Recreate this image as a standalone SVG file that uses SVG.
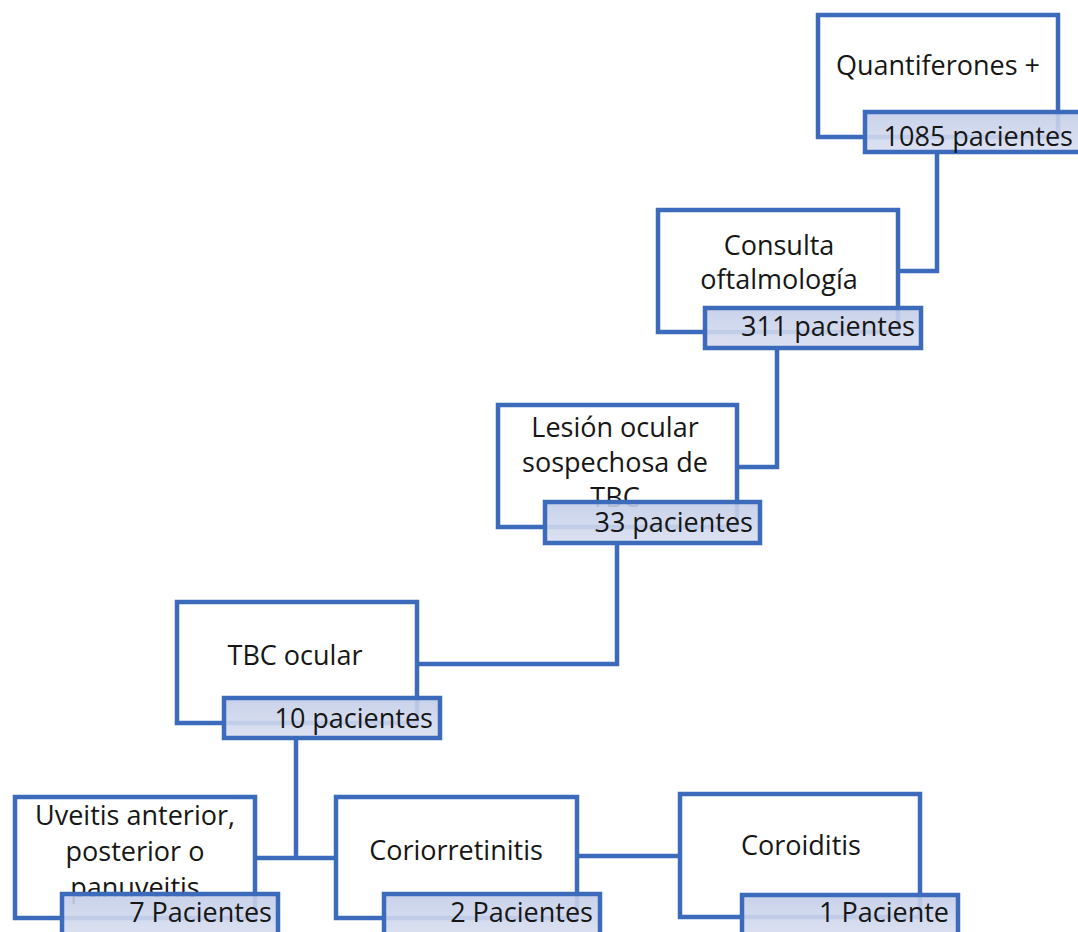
<svg xmlns="http://www.w3.org/2000/svg" width="1078" height="932" viewBox="0 0 1078 932">
<defs>
<linearGradient id="lg" x1="0" y1="0" x2="0" y2="1">
<stop offset="0" stop-color="#c3cde8"/>
<stop offset="1" stop-color="#d9dff0"/>
</linearGradient>
<style>
.box{fill:#ffffff;stroke:#3d6bbc;stroke-width:4.5}
.lab{fill:url(#lg);fill-opacity:0.9;stroke:#3d6bbc;stroke-width:4.5}
.conn{fill:none;stroke:#3d6bbc;stroke-width:4.5}
text{font-family:"Open Sans","Liberation Sans",sans-serif;font-size:27px;fill:#161616}
.c{text-anchor:middle}
.r{text-anchor:end}
</style>
</defs>
<rect width="1078" height="932" fill="#ffffff"/>
<g id="connectors">
<path class="conn" d="M937 152 V271 H898"/>
<path class="conn" d="M777 348 V467 H737"/>
<path class="conn" d="M617 543 V664 H417"/>
<path class="conn" d="M296 738 V858"/>
<path class="conn" d="M255 858 H336"/>
<path class="conn" d="M577 856 H680"/>
</g>
<g id="n1">
<rect class="box" x="818" y="15" width="240" height="122"/>
<text class="c" x="938" y="75">Quantiferones +</text>
<rect class="lab" x="865" y="112" width="216" height="40"/>
<text class="r" x="1073" y="146">1085 pacientes</text>
</g>
<g id="n2">
<rect class="box" x="658" y="210" width="240" height="122"/>
<text class="c" x="779" y="255">Consulta</text>
<text class="c" x="779" y="289">oftalmología</text>
<rect class="lab" x="705" y="308" width="216" height="40"/>
<text class="r" x="915" y="336">311 pacientes</text>
</g>
<g id="n3">
<rect class="box" x="498" y="405" width="239" height="122"/>
<text class="c" x="615" y="437">Lesión ocular</text>
<text class="c" x="615" y="472">sospechosa de</text>
<text class="c" x="615" y="507">TBC</text>
<rect class="lab" x="545" y="502" width="215" height="41"/>
<text class="r" x="753" y="532">33 pacientes</text>
</g>
<g id="n4">
<rect class="box" x="177" y="602" width="240" height="121"/>
<text class="c" x="295" y="665">TBC ocular</text>
<rect class="lab" x="224" y="698" width="216" height="40"/>
<text class="r" x="433" y="728">10 pacientes</text>
</g>
<g id="n5">
<rect class="box" x="15" y="797" width="240" height="121"/>
<text class="c" x="135" y="825">Uveitis anterior,</text>
<text class="c" x="135" y="861">posterior o</text>
<text class="c" x="135" y="897">panuveitis</text>
<rect class="lab" x="62" y="894" width="216" height="44"/>
<text class="r" x="272" y="922">7 Pacientes</text>
</g>
<g id="n6">
<rect class="box" x="336" y="797" width="241" height="121"/>
<text class="c" x="456" y="860">Coriorretinitis</text>
<rect class="lab" x="384" y="894" width="216" height="44"/>
<text class="r" x="593" y="922">2 Pacientes</text>
</g>
<g id="n7">
<rect class="box" x="680" y="794" width="240" height="123"/>
<text class="c" x="801" y="855">Coroiditis</text>
<rect class="lab" x="742" y="895" width="216" height="44"/>
<text class="r" x="949" y="922">1 Paciente</text>
</g>
</svg>
